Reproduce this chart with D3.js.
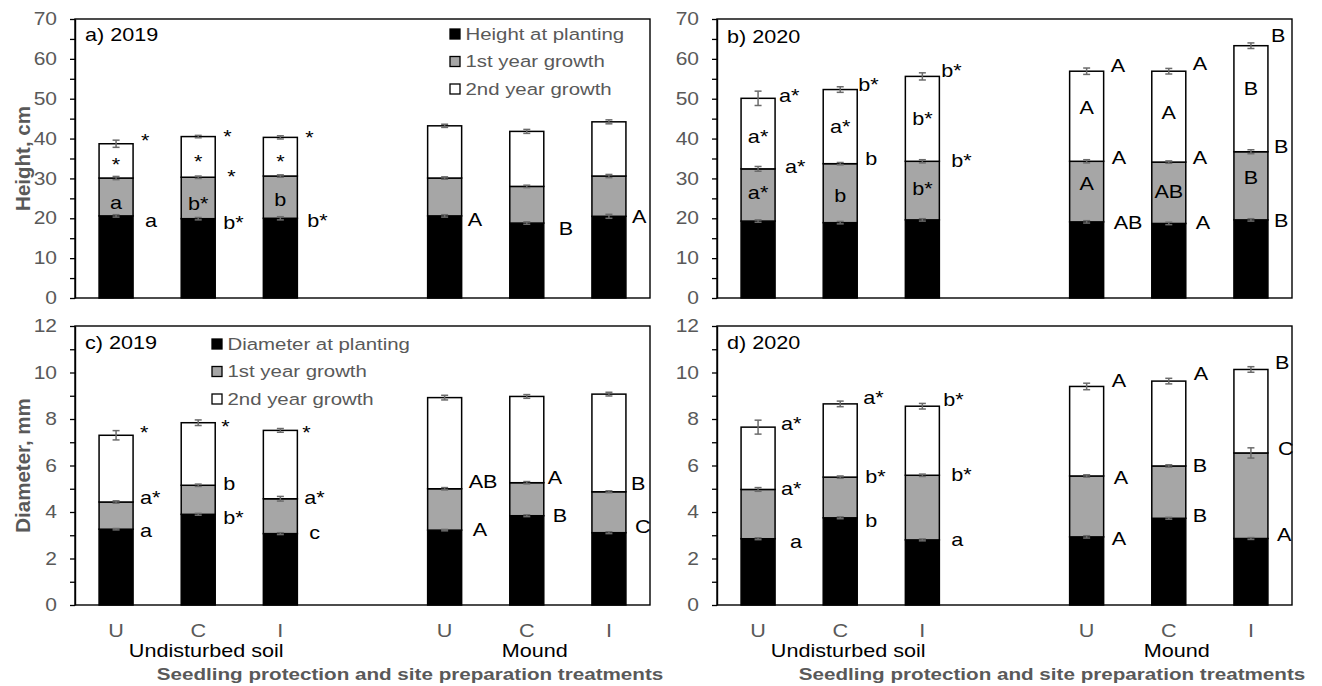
<!DOCTYPE html>
<html>
<head>
<meta charset="utf-8">
<script src="https://cdn.jsdelivr.net/npm/d3@7"></script>
<style>
  body { margin: 0; background: #fff; }
  text { font-family: "Liberation Sans", Arial, sans-serif; }
</style>
</head>
<body>
<svg id="chart" width="1322" height="686"></svg>
<script>
// ---- categories ----
const slots = ["US-U", "US-C", "US-I", "gap", "M-U", "M-C", "M-I"];
const barSlots = ["US-U", "US-C", "US-I", "M-U", "M-C", "M-I"];
const treatmentLabels = ["U", "C", "I", "U", "C", "I"];
const siteLabels = ["Undisturbed soil", "Mound"];
const siteLabelSlots = ["US-C", "M-C"];
const xAxisTitle = "Seedling protection and site preparation treatments";

// ---- height, 2019 (cm) ----
const height2019Planting = [20.6, 19.9, 20.0, 20.6, 18.8, 20.5];
const height2019Year1    = [9.5, 10.4, 10.6, 9.5, 9.2, 10.1];
const height2019Year2    = [8.6, 10.2, 9.7, 13.1, 13.8, 13.6];
const height2019SePlanting = [0.3, 0.3, 0.4, 0.3, 0.3, 0.5];
const height2019SeYear1    = [0.4, 0.3, 0.3, 0.3, 0.3, 0.4];
const height2019SeYear2    = [0.9, 0.3, 0.4, 0.4, 0.5, 0.5];

// ---- height, 2020 (cm) ----
const height2020Planting = [19.3, 18.9, 19.6, 19.1, 18.7, 19.6];
const height2020Year1    = [13.1, 14.8, 14.7, 15.2, 15.4, 17.1];
const height2020Year2    = [17.7, 18.6, 21.3, 22.6, 22.8, 26.6];
const height2020SePlanting = [0.3, 0.3, 0.3, 0.3, 0.3, 0.3];
const height2020SeYear1    = [0.6, 0.3, 0.4, 0.4, 0.3, 0.5];
const height2020SeYear2    = [1.8, 0.7, 0.9, 0.8, 0.7, 0.7];

// ---- diameter, 2019 (mm) ----
const diameter2019Planting = [3.26, 3.90, 3.07, 3.22, 3.84, 3.11];
const diameter2019Year1    = [1.17, 1.25, 1.50, 1.78, 1.42, 1.76];
const diameter2019Year2    = [2.87, 2.69, 2.94, 3.92, 3.71, 4.20];
const diameter2019SePlanting = [0.03, 0.04, 0.04, 0.03, 0.04, 0.04];
const diameter2019SeYear1    = [0.05, 0.05, 0.10, 0.05, 0.05, 0.04];
const diameter2019SeYear2    = [0.20, 0.12, 0.08, 0.10, 0.08, 0.08];

// ---- diameter, 2020 (mm) ----
const diameter2020Planting = [2.85, 3.75, 2.80, 2.93, 3.73, 2.86];
const diameter2020Year1    = [2.12, 1.75, 2.78, 2.62, 2.25, 3.68];
const diameter2020Year2    = [2.68, 3.15, 2.97, 3.85, 3.65, 3.59];
const diameter2020SePlanting = [0.04, 0.04, 0.04, 0.05, 0.04, 0.04];
const diameter2020SeYear1    = [0.08, 0.05, 0.05, 0.05, 0.05, 0.22];
const diameter2020SeYear2    = [0.30, 0.12, 0.12, 0.14, 0.12, 0.12];

// ---- significance letters: [bar, text, y value, "in" | "out", px offset from bar edge] ----
const lettersHeight2019 = [
  [0, "*", 39.5, "out", 8], [0, "*", 33.5, "in"], [0, "a", 24.0, "in"], [0, "a", 19.5, "out", 12],
  [1, "*", 40.4, "out", 8], [1, "*", 34.3, "in"], [1, "*", 30.4, "out", 12], [1, "b*", 23.6, "in"], [1, "b*", 19.0, "out", 8],
  [2, "*", 40.2, "out", 8], [2, "*", 34.3, "in"], [2, "b", 24.7, "in"], [2, "b*", 19.3, "out", 10],
  [3, "A", 19.7, "out", 6], [4, "B", 17.5, "out", 15], [5, "A", 20.3, "out", 6]
];
const lettersHeight2020 = [
  [0, "a*", 50.8, "out", 4], [0, "a*", 40.6, "in"], [0, "a*", 33.0, "out", 10], [0, "a*", 26.4, "in"],
  [1, "b*", 53.5, "out", 1], [1, "a*", 42.9, "in"], [1, "b", 34.9, "out", 8], [1, "b", 25.7, "in"],
  [2, "b*", 57.1, "out", 2], [2, "b*", 45.1, "in"], [2, "b*", 34.5, "out", 12], [2, "b*", 27.4, "in"],
  [3, "A", 58.3, "out", 7], [3, "A", 47.7, "in"], [3, "A", 35.1, "out", 8], [3, "A", 28.7, "in"], [3, "AB", 19.0, "out", 10],
  [4, "A", 58.7, "out", 7], [4, "A", 46.4, "in"], [4, "A", 35.1, "out", 7], [4, "AB", 26.8, "in"], [4, "A", 18.8, "out", 10],
  [5, "B", 65.8, "out", 3], [5, "B", 52.6, "in"], [5, "B", 38.0, "out", 6], [5, "B", 30.3, "in"], [5, "B", 19.5, "out", 6]
];
const lettersDiameter2019 = [
  [0, "*", 7.43, "out", 7], [0, "a*", 4.6, "out", 7], [0, "a", 3.2, "out", 7],
  [1, "*", 7.69, "out", 6], [1, "b", 5.2, "out", 8], [1, "b*", 3.75, "out", 8],
  [2, "*", 7.43, "out", 5], [2, "a*", 4.6, "out", 7], [2, "c", 3.1, "out", 12],
  [3, "AB", 5.3, "out", 7], [3, "A", 3.26, "out", 11],
  [4, "A", 5.47, "out", 4], [4, "B", 3.83, "out", 9],
  [5, "B", 5.2, "out", 5], [5, "C", 3.37, "out", 9]
];
const lettersDiameter2020 = [
  [0, "a*", 7.81, "out", 6], [0, "a*", 5.0, "out", 6], [0, "a", 2.71, "out", 15],
  [1, "a*", 8.9, "out", 6], [1, "b*", 5.5, "out", 8], [1, "b", 3.64, "out", 8],
  [2, "b*", 8.83, "out", 4], [2, "b*", 5.6, "out", 12], [2, "a", 2.81, "out", 12],
  [3, "A", 9.64, "out", 8], [3, "A", 5.46, "out", 10], [3, "A", 2.86, "out", 8],
  [4, "A", 9.93, "out", 8], [4, "B", 6.0, "out", 7], [4, "B", 3.86, "out", 7],
  [5, "B", 10.43, "out", 7], [5, "C", 6.74, "out", 10], [5, "A", 3.03, "out", 9]
];

const heightLegend = ["Height at planting", "1st year growth", "2nd year growth"];
const diameterLegend = ["Diameter at planting", "1st year growth", "2nd year growth"];

// ---- styling ----
const SX = 1.2;                 // horizontal text stretch
const segFill = ["#000000", "#a6a6a6", "#ffffff"];
const greyText = "#595959";
const errColor = "#6b6b6b";
const W = 575, H = 279;

const panels = [
  { left: 75,  top: 19,  max: 70, step: 5, labelStep: 10, tag: "a) 2019", tagDy: 16,
    segs: [height2019Planting, height2019Year1, height2019Year2],
    se: [height2019SePlanting, height2019SeYear1, height2019SeYear2],
    letters: lettersHeight2019, yTitle: "Height, cm",
    legend: heightLegend, legendX: 375, legendDy: 15, xLabels: false },
  { left: 717, top: 19,  max: 70, step: 5, labelStep: 10, tag: "b) 2020", tagDy: 18,
    segs: [height2020Planting, height2020Year1, height2020Year2],
    se: [height2020SePlanting, height2020SeYear1, height2020SeYear2],
    letters: lettersHeight2020, xLabels: false },
  { left: 75,  top: 326, max: 12, step: 1, labelStep: 2, tag: "c) 2019", tagDy: 17,
    segs: [diameter2019Planting, diameter2019Year1, diameter2019Year2],
    se: [diameter2019SePlanting, diameter2019SeYear1, diameter2019SeYear2],
    letters: lettersDiameter2019, yTitle: "Diameter, mm",
    legend: diameterLegend, legendX: 137, legendDy: 18, xLabels: true },
  { left: 717, top: 326, max: 12, step: 1, labelStep: 2, tag: "d) 2020", tagDy: 17,
    segs: [diameter2020Planting, diameter2020Year1, diameter2020Year2],
    se: [diameter2020SePlanting, diameter2020SeYear1, diameter2020SeYear2],
    letters: lettersDiameter2020, xLabels: true }
];

const svg = d3.select("#chart");

// text helper: horizontally stretched label, vertically centred on y
function label(g, x, y, str, opt = {}) {
  return g.append("text")
    .attr("transform", `translate(${x},${y}) scale(${SX},1)`)
    .attr("text-anchor", opt.anchor || "start")
    .attr("dominant-baseline", "central")
    .attr("font-size", opt.size || 18)
    .attr("font-weight", opt.weight || "normal")
    .attr("fill", opt.fill || "#000")
    .text(str);
}

panels.forEach(p => {
  const g = svg.append("g").attr("transform", `translate(${p.left},${p.top})`);

  const x = d3.scaleBand().domain(slots).range([0, W]).paddingInner(0).paddingOuter(0);
  const y = d3.scaleLinear().domain([0, p.max]).range([H, 0]);
  const barW = x.bandwidth() * 0.414;
  const cx = s => x(s) + x.bandwidth() / 2;

  // stacked segments
  const rows = barSlots.map((s, i) => ({ slot: s, s0: p.segs[0][i], s1: p.segs[1][i], s2: p.segs[2][i] }));
  const stack = d3.stack().keys(["s0", "s1", "s2"])(rows);

  stack.forEach((layer, k) => {
    g.append("g").selectAll("rect").data(layer).join("rect")
      .attr("x", d => cx(d.data.slot) - barW / 2)
      .attr("y", d => y(d[1]))
      .attr("width", barW)
      .attr("height", d => y(d[0]) - y(d[1]))
      .attr("fill", segFill[k])
      .attr("stroke", "#000")
      .attr("stroke-width", 1.5);
  });

  // error bars at each cumulative top
  stack.forEach((layer, k) => {
    const eg = g.append("g").attr("stroke", errColor).attr("stroke-width", 1.5);
    layer.forEach((d, i) => {
      const top = d[1], se = p.se[k][i], xc = cx(d.data.slot);
      eg.append("line").attr("x1", xc).attr("x2", xc).attr("y1", y(top - se)).attr("y2", y(top + se));
      eg.append("line").attr("x1", xc - 3.5).attr("x2", xc + 3.5).attr("y1", y(top - se)).attr("y2", y(top - se));
      eg.append("line").attr("x1", xc - 3.5).attr("x2", xc + 3.5).attr("y1", y(top + se)).attr("y2", y(top + se));
    });
  });

  // frame
  g.append("rect").attr("x", 0).attr("y", 0).attr("width", W).attr("height", H)
    .attr("fill", "none").attr("stroke", "#000").attr("stroke-width", 1.4);

  // y axis
  const ticks = d3.range(0, p.max + p.step / 2, p.step);
  const yAxis = d3.axisLeft(y).tickValues(ticks).tickSize(5).tickSizeOuter(0)
    .tickFormat(d => (Math.round(d) % p.labelStep === 0 ? d : ""));
  const ag = g.append("g").call(yAxis);
  ag.select(".domain").attr("stroke", "#000").attr("stroke-width", 1.4);
  ag.selectAll(".tick line").attr("stroke", "#000").attr("stroke-width", 1.3);
  ag.selectAll(".tick text")
    .attr("x", -18 / SX)
    .attr("transform", `scale(${SX},1)`)
    .attr("font-size", 17.5)
    .attr("font-family", "Liberation Sans, Arial, sans-serif")
    .attr("fill", greyText);

  // x category labels and axis title (bottom row only)
  if (p.xLabels) {
    barSlots.forEach((s, i) => label(g, cx(s), H + 26, treatmentLabels[i], { anchor: "middle", fill: greyText }));
    siteLabelSlots.forEach((s, i) => label(g, cx(s) + 8, H + 46, siteLabels[i], { anchor: "middle" }));
    label(g, 335, H + 69, xAxisTitle, { anchor: "middle", size: 17.2, weight: "bold", fill: greyText });
  }

  // y title
  if (p.yTitle) {
    g.append("text")
      .attr("transform", `translate(${22 - p.left},${H / 2}) rotate(-90)`)
      .attr("text-anchor", "middle")
      .attr("dominant-baseline", "central")
      .attr("font-size", 20.5)
      .attr("font-weight", "bold")
      .attr("fill", greyText)
      .text(p.yTitle);
  }

  // panel tag
  label(g, 10, p.tagDy, p.tag);

  // significance letters
  p.letters.forEach(([bi, txt, v, where, dx]) => {
    const xc = cx(barSlots[bi]);
    if (where === "in") label(g, xc, y(v), txt, { anchor: "middle" });
    else label(g, xc + barW / 2 + dx, y(v), txt);
  });

  // legend
  if (p.legend) {
    p.legend.forEach((t, k) => {
      const ly = p.legendDy + k * 27.5;
      g.append("rect").attr("x", p.legendX).attr("y", ly - 5).attr("width", 10).attr("height", 10)
        .attr("fill", segFill[k]).attr("stroke", "#000").attr("stroke-width", 1.3);
      label(g, p.legendX + 15.5, ly, t, { size: 17, fill: greyText });
    });
  }
});
</script>
</body>
</html>
